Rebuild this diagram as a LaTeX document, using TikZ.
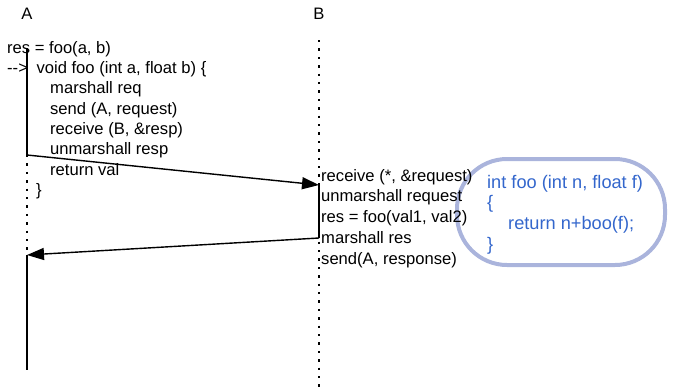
\documentclass[tikz,border=0pt]{standalone}
\usepackage{fontspec}
\setmainfont{Liberation Sans}
\usetikzlibrary{arrows.meta,positioning}
\definecolor{codeblue}{RGB}{51,102,204}
\definecolor{boxlilac}{RGB}{170,180,220}
\tikzset{
seq/.style={x=1pt,y=-1pt,>={Triangle[length=17pt,width=12pt]},
    font=\fontsize{16.6}{20.3}\selectfont},
actor/.style={inner sep=0pt,anchor=center},
life/.style={line width=1.4pt},
idle/.style={line width=1.6pt,dash pattern=on 2.4pt off 6pt},
msg/.style={->,line width=1.4pt},
code/.style={align=left,inner sep=0pt,anchor=north west},
callout/.style={draw=boxlilac,line width=4pt,rounded corners=50pt,
    minimum width=208pt,minimum height=106pt},
}

\begin{document}
\begin{tikzpicture}[seq]
    \useasboundingbox (0,0) rectangle (685,388);

    \node[actor] (A) at (27,14) {A};
    \node[actor] (B) at (319,14) {B};

    \coordinate (a top) at (27,48);
    \coordinate (a send) at (27,155);
    \coordinate (a recv) at (27,255);
    \coordinate (a end) at (27,370);
    \coordinate (b top) at (319,40);
    \coordinate (b recv) at (319,185);
    \coordinate (b send) at (319,238);
    \coordinate (b end) at (319,388);

    % lifelines
    \draw[idle] (a send) -- (a recv);
    \draw[idle] (b top) -- (b end);
    \draw[life] (a top) -- (a send);
    \draw[life] (a recv) -- (a end);
    \draw[life] (b recv) -- (b send);

    % messages
    \draw[msg] (a send) -- (b recv);
    \draw[msg] (b send) -- (a recv);

    \node[code] (caller) at (7,41) {res = foo(a, b)\\
        -\kern0pt->\hspace*{4pt} void foo (int a, float b) \{\\
        \hspace*{43pt}marshall req\\
        \hspace*{43pt}send (A, request)\\
        \hspace*{43pt}receive (B, \&resp)\\
        \hspace*{43pt}unmarshall resp\\
        \hspace*{43pt}return val\\
        \hspace*{29pt}\}};

    \node[callout] (impl) at (561,212) {};

    \node[code,font=\fontsize{16.6}{20.7}\selectfont] (server) at (321,169)
        {receive (*, \&request)\\
        unmarshall request\\
        res = foo(val1, val2)\\
        marshall res\\
        send(A, response)};

    \node[code,text=codeblue,font=\fontsize{18.2}{20.6}\selectfont] (body)
        at (487,175) {int foo (int n, float f)\\
        \{\\
        \hspace*{21pt}return n+boo(f);\\
        \}};
\end{tikzpicture}
\end{document}
